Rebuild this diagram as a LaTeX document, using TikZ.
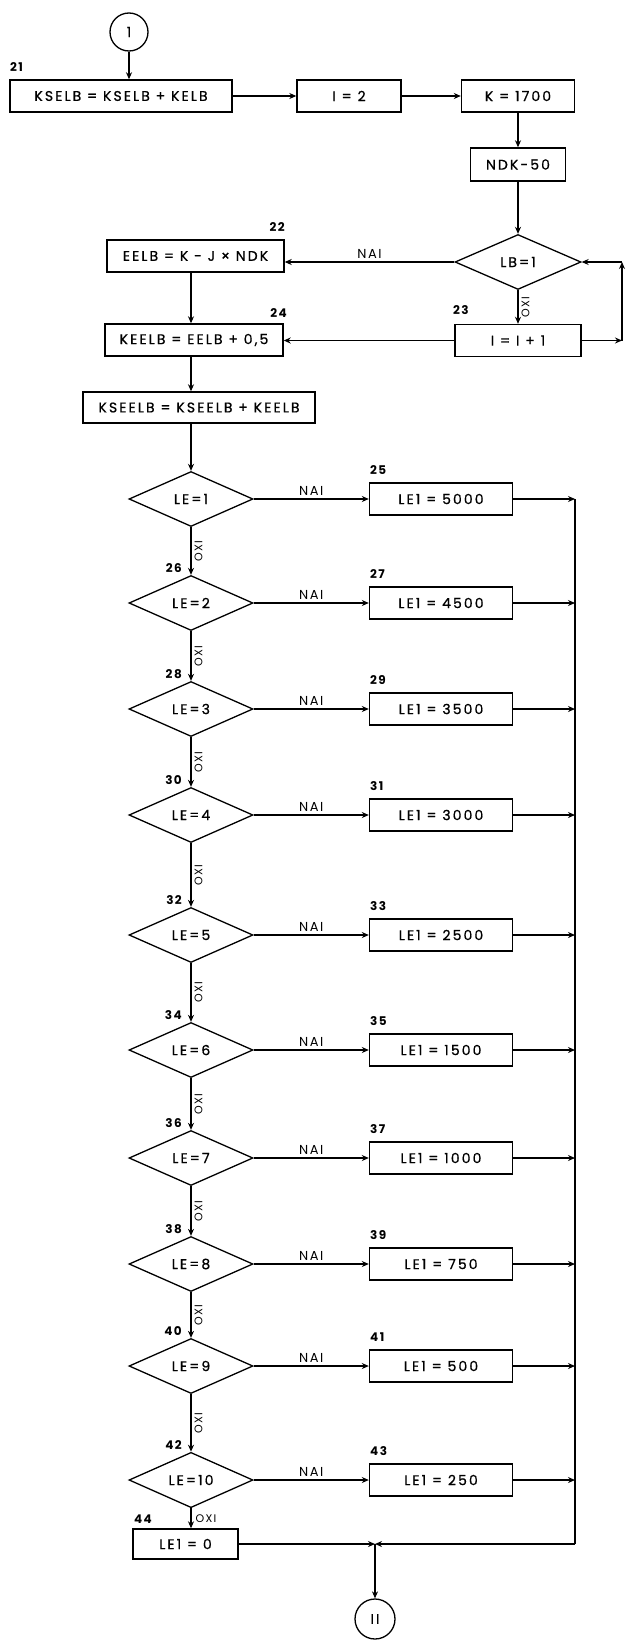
\documentclass[tikz,border=0pt]{standalone}
\usepackage{fontspec}
\setmainfont{Poppins}[LetterSpace=12]
\newfontfamily\boxfont{Poppins}[LetterSpace=15,FakeBold=0.8]
\usetikzlibrary{shapes.geometric,arrows.meta}
\begin{document}
\begin{tikzpicture}[x=1pt,y=-1pt,
  every node/.style={font=\boxfont\fontsize{14}{16}\selectfont},
  box/.style={draw,line width=1.4pt,minimum height=32pt,inner sep=0pt},
  dia/.style={draw,diamond,line width=1.3pt,minimum width=124pt,minimum height=55pt,inner sep=0pt},
  conn/.style={draw,circle,line width=1.3pt,minimum size=38pt,inner sep=0pt},
  num/.style={font=\normalfont\fontsize{12}{14}\selectfont\bfseries,inner sep=0pt},
  lab/.style={font=\normalfont\fontsize{13}{15}\selectfont,inner sep=2pt},
  olab/.style={font=\normalfont\fontsize{11}{13}\selectfont,inner sep=3pt},
  arr/.style={line width=1.2pt,-{Stealth[length=7pt,width=6pt]}},
  ln/.style={line width=1.2pt}]
\useasboundingbox (0,0) rectangle (625,1640);

% top part
\node[conn] (c1) at (129,32) {1};
\node[box,minimum width=222pt] (b21) at (121,96) {KSELB = KSELB + KELB};
\node[box,minimum width=104pt] (b21a) at (349,96) {I = 2};
\node[box,minimum width=113pt] (b21b) at (518,96) {K = 1700};
\node[box,minimum width=95pt,minimum height=33pt] (b21c) at (518,164.5) {NDK-50};
\node[dia,minimum width=126pt] (lb) at (518,262) {LB=1};
\node[box,minimum width=177pt] (b22) at (195.5,256) {EELB = K - J × NDK};
\node[box,minimum width=126pt] (b23) at (518,340.5) {I = I + 1};
\node[box,minimum width=178pt] (b24) at (194,340) {KEELB = EELB + 0,5};
\node[box,minimum width=232pt,minimum height=31pt] (b24a) at (199,407.5) {KSEELB = KSEELB + KEELB};

\node[num,anchor=west] (n21) at (10,67) {21};
\node[num,anchor=east] (n22) at (285,227) {22};
\node[num,anchor=east] (n24) at (287,313) {24};
\node[num,anchor=west] (n23) at (453,310) {23};

\coordinate (col) at (191,0);
\coordinate (r1) at (622,340.5);
\coordinate (r2) at (622,262);

\draw[arr] (c1.south) -- (c1.south |- b21.north);
\draw[arr] (b21.east) -- (b21.east -| b21a.west);
\draw[arr] (b21a.east) -- (b21a.east -| b21b.west);
\draw[arr] (b21b.south) -- (b21c.north);
\draw[arr] (b21c.south) -- (lb.north);
\draw[arr] (lb.west) -- (lb.west -| b22.east) node[lab,midway,above=1pt] {NAI};
\draw[arr] (lb.south) -- (b23.north) node[olab,midway,anchor=north,rotate=90] {OXI};
\draw[arr] (b23.west) -- (b23.west -| b24.east);
\draw[arr] (b23.east) -- (r1);
\draw[arr] (r1) -- (r2);
\draw[arr] (r2) -- (lb.east);
\draw[arr] (col |- b22.south) -- (col |- b24.north);
\draw[arr] (col |- b24.south) -- (col |- b24a.north);

% decision chain
\coordinate (bus) at (575,499);
\coordinate (busb) at (575,1544);
\coordinate (J) at (375,1544);

\foreach \i/\y/\v/\bn in {1/499/5000/25,2/603/4500/27,3/709/3500/29,4/815/3000/31,5/935/2500/33,6/1050/1500/35,7/1158/1000/37,8/1264/750/39,9/1366/500/41,10/1480/250/43}{
  \node[dia] (d\i) at (191,\y) {LE=\i};
  \node[box,minimum width=143pt] (e\i) at (441,\y) {LE1 = \v};
  \node[num,anchor=west] (m\i) at (370,\y-29) {\bn};
  \draw[arr] (d\i.east) -- (e\i.west) node[lab,midway,above=1pt] {NAI};
  \draw[arr] (e\i.east) -- (e\i.east -| bus);
}
\foreach \i/\dn in {2/26,3/28,4/30,5/32,6/34,7/36,8/38,9/40,10/42}{
  \node[num,anchor=south east] (q\i) at ([xshift=-9pt,yshift=2pt]d\i.north) {\dn};
}
\foreach \i/\j in {1/2,2/3,3/4,4/5,5/6,6/7,7/8,8/9,9/10}{
  \draw[arr] (d\i.south) -- (d\j.north) node[olab,midway,anchor=north,rotate=90] {OXI};
}
\draw[arr] (col |- b24a.south) -- (d1.north);

\node[box,minimum width=105pt,minimum height=30pt] (b44) at (185.5,1544) {LE1 = 0};
\node[num,anchor=east] (n44) at (152,1519) {44};
\draw[arr] (d10.south) -- (d10.south |- b44.north) node[olab,midway,right=1pt] {OXI};
\draw[ln] (bus) -- (busb);
\draw[arr] (busb) -- (J);
\draw[arr] (b44.east) -- (J);
\node[conn,minimum size=40pt] (c2) at (375,1619) {II};
\draw[arr] (J) -- (c2.north);
\end{tikzpicture}
\end{document}
